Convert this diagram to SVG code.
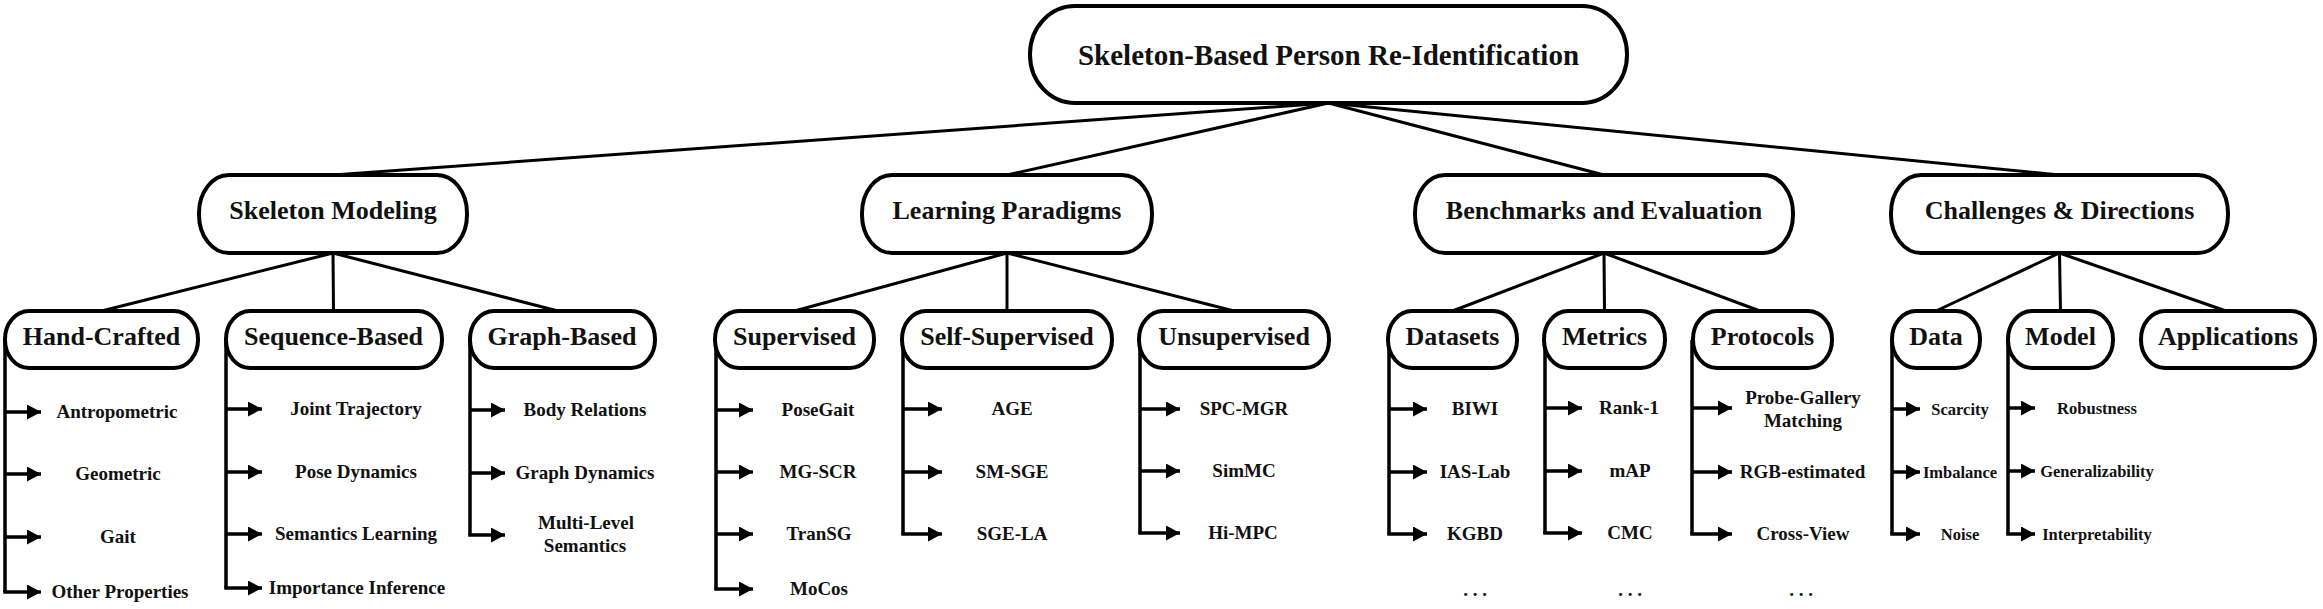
<svg xmlns="http://www.w3.org/2000/svg" width="2323" height="609" viewBox="0 0 2323 609">
<style>
  .box { fill: #fff; stroke: #000; stroke-width: 4; }
  .conn { stroke: #000; stroke-width: 3; fill: none; }
  .br { stroke: #000; stroke-width: 3.5; fill: none; stroke-linejoin: miter; }
  .arr { stroke: #000; stroke-width: 3.5; fill: none; marker-end: url(#ah); }
  text { font-family: "Liberation Serif", "Times New Roman", serif; font-weight: bold; fill: #111; text-anchor: middle; }
  .t0 { font-size: 29px; }
  .t1 { font-size: 26px; }
  .t2 { font-size: 26px; }
  .t3 { font-size: 19px; }
  .t4 { font-size: 16.5px; }
</style>
<defs>
  <marker id="ah" markerUnits="userSpaceOnUse" markerWidth="15" markerHeight="15" refX="14" refY="7.5" orient="auto">
    <path d="M0,0 L14,7.5 L0,15 z" fill="#000"/>
  </marker>
</defs>
<rect width="2323" height="609" fill="#fff"/>

<g id="connectors">
  <line class="conn" x1="1328.5" y1="103" x2="333" y2="175"/>
  <line class="conn" x1="1328.5" y1="103" x2="1007" y2="175"/>
  <line class="conn" x1="1328.5" y1="103" x2="1604" y2="175"/>
  <line class="conn" x1="1328.5" y1="103" x2="2059.5" y2="175"/>
  <line class="conn" x1="333" y1="253" x2="101.5" y2="311"/>
  <line class="conn" x1="333" y1="253" x2="333.5" y2="311"/>
  <line class="conn" x1="333" y1="253" x2="558" y2="311"/>
  <line class="conn" x1="1007" y1="253" x2="794.5" y2="311"/>
  <line class="conn" x1="1007" y1="253" x2="1007" y2="311"/>
  <line class="conn" x1="1007" y1="253" x2="1234" y2="311"/>
  <line class="conn" x1="1604" y1="253" x2="1452.5" y2="311"/>
  <line class="conn" x1="1604" y1="253" x2="1604.5" y2="311"/>
  <line class="conn" x1="1604" y1="253" x2="1760" y2="311"/>
  <line class="conn" x1="2059.5" y1="253" x2="1936" y2="311"/>
  <line class="conn" x1="2059.5" y1="253" x2="2060.5" y2="311"/>
  <line class="conn" x1="2059.5" y1="253" x2="2226" y2="311"/>

  <!-- Hand-Crafted -->
  <path class="br" d="M5,340 V592"/>
  <line class="arr" x1="5" y1="412" x2="41" y2="412"/>
  <line class="arr" x1="5" y1="474" x2="41" y2="474"/>
  <line class="arr" x1="5" y1="537" x2="41" y2="537"/>
  <line class="arr" x1="3.25" y1="592" x2="41" y2="592"/>
  <!-- Sequence-Based -->
  <path class="br" d="M226,340 V588"/>
  <line class="arr" x1="226" y1="409" x2="262" y2="409"/>
  <line class="arr" x1="226" y1="472" x2="262" y2="472"/>
  <line class="arr" x1="226" y1="534" x2="262" y2="534"/>
  <line class="arr" x1="224.25" y1="588" x2="262" y2="588"/>
  <!-- Graph-Based -->
  <path class="br" d="M470,340 V535"/>
  <line class="arr" x1="470" y1="410" x2="505" y2="410"/>
  <line class="arr" x1="470" y1="473" x2="505" y2="473"/>
  <line class="arr" x1="468.25" y1="535" x2="505" y2="535"/>
  <!-- Supervised -->
  <path class="br" d="M716,340 V589"/>
  <line class="arr" x1="716" y1="410" x2="753" y2="410"/>
  <line class="arr" x1="716" y1="472" x2="753" y2="472"/>
  <line class="arr" x1="716" y1="534" x2="753" y2="534"/>
  <line class="arr" x1="714.25" y1="589" x2="753" y2="589"/>
  <!-- Self-Supervised -->
  <path class="br" d="M903,340 V534"/>
  <line class="arr" x1="903" y1="409" x2="942" y2="409"/>
  <line class="arr" x1="903" y1="472" x2="942" y2="472"/>
  <line class="arr" x1="901.25" y1="534" x2="942" y2="534"/>
  <!-- Unsupervised -->
  <path class="br" d="M1140,340 V533"/>
  <line class="arr" x1="1140" y1="409" x2="1180" y2="409"/>
  <line class="arr" x1="1140" y1="471" x2="1180" y2="471"/>
  <line class="arr" x1="1138.25" y1="533" x2="1180" y2="533"/>
  <!-- Datasets -->
  <path class="br" d="M1389,340 V534"/>
  <line class="arr" x1="1389" y1="409" x2="1427" y2="409"/>
  <line class="arr" x1="1389" y1="472" x2="1427" y2="472"/>
  <line class="arr" x1="1387.25" y1="534" x2="1427" y2="534"/>
  <!-- Metrics -->
  <path class="br" d="M1545,340 V533"/>
  <line class="arr" x1="1545" y1="408" x2="1582" y2="408"/>
  <line class="arr" x1="1545" y1="471" x2="1582" y2="471"/>
  <line class="arr" x1="1543.25" y1="533" x2="1582" y2="533"/>
  <!-- Protocols -->
  <path class="br" d="M1692,340 V534"/>
  <line class="arr" x1="1692" y1="408" x2="1732" y2="408"/>
  <line class="arr" x1="1692" y1="472" x2="1732" y2="472"/>
  <line class="arr" x1="1690.25" y1="534" x2="1732" y2="534"/>
  <!-- Data -->
  <path class="br" d="M1892,340 V534"/>
  <line class="arr" x1="1892" y1="409" x2="1920" y2="409"/>
  <line class="arr" x1="1892" y1="472" x2="1920" y2="472"/>
  <line class="arr" x1="1890.25" y1="534" x2="1920" y2="534"/>
  <!-- Model -->
  <path class="br" d="M2008,340 V534"/>
  <line class="arr" x1="2008" y1="408" x2="2035" y2="408"/>
  <line class="arr" x1="2008" y1="471" x2="2035" y2="471"/>
  <line class="arr" x1="2006.25" y1="534" x2="2035" y2="534"/>
</g>

<g id="root">
  <rect class="box" x="1030" y="6" width="597" height="97" rx="45" ry="48"/>
  <text class="t0" x="1328.5" y="65">Skeleton-Based Person Re-Identification</text>
</g>

<g id="skeleton-modeling">
  <rect class="box" x="199" y="175" width="268" height="78" rx="30" ry="38"/>
  <text class="t1" x="333" y="219">Skeleton Modeling</text>
</g>
<g id="learning-paradigms">
  <rect class="box" x="862" y="175" width="290" height="78" rx="30" ry="38"/>
  <text class="t1" x="1007" y="219">Learning Paradigms</text>
</g>
<g id="benchmarks">
  <rect class="box" x="1415" y="175" width="378" height="78" rx="30" ry="38"/>
  <text class="t1" x="1604" y="219">Benchmarks and Evaluation</text>
</g>
<g id="challenges">
  <rect class="box" x="1891" y="175" width="337" height="78" rx="30" ry="38"/>
  <text class="t1" x="2059.5" y="219">Challenges &amp; Directions</text>
</g>

<g id="hand-crafted">
  <rect class="box" x="5" y="311" width="193" height="57" rx="24" ry="28"/>
  <text class="t2" x="101.5" y="345">Hand-Crafted</text>
  <text class="t3" x="117" y="418">Antropometric</text>
  <text class="t3" x="118" y="480">Geometric</text>
  <text class="t3" x="118" y="543">Gait</text>
  <text class="t3" x="120" y="598">Other Properties</text>
</g>
<g id="sequence-based">
  <rect class="box" x="226" y="311" width="216" height="57" rx="24" ry="28"/>
  <text class="t2" x="333.5" y="345">Sequence-Based</text>
  <text class="t3" x="356" y="415">Joint Trajectory</text>
  <text class="t3" x="356" y="478">Pose Dynamics</text>
  <text class="t3" x="356" y="540">Semantics Learning</text>
  <text class="t3" x="357" y="594">Importance Inference</text>
</g>
<g id="graph-based">
  <rect class="box" x="470" y="311" width="185" height="57" rx="24" ry="28"/>
  <text class="t2" x="562" y="345">Graph-Based</text>
  <text class="t3" x="585" y="416">Body Relations</text>
  <text class="t3" x="585" y="479">Graph Dynamics</text>
  <text class="t3" x="586" y="529">Multi-Level</text>
  <text class="t3" x="585" y="552">Semantics</text>
</g>
<g id="supervised">
  <rect class="box" x="715" y="311" width="159" height="57" rx="24" ry="28"/>
  <text class="t2" x="794.5" y="345">Supervised</text>
  <text class="t3" x="818" y="416">PoseGait</text>
  <text class="t3" x="818" y="478">MG-SCR</text>
  <text class="t3" x="819" y="540">TranSG</text>
  <text class="t3" x="819" y="595">MoCos</text>
</g>
<g id="self-supervised">
  <rect class="box" x="902" y="311" width="210" height="57" rx="24" ry="28"/>
  <text class="t2" x="1007" y="345">Self-Supervised</text>
  <text class="t3" x="1012" y="415">AGE</text>
  <text class="t3" x="1012" y="478">SM-SGE</text>
  <text class="t3" x="1012" y="540">SGE-LA</text>
</g>
<g id="unsupervised">
  <rect class="box" x="1139" y="311" width="190" height="57" rx="24" ry="28"/>
  <text class="t2" x="1234" y="345">Unsupervised</text>
  <text class="t3" x="1244" y="415">SPC-MGR</text>
  <text class="t3" x="1244" y="477">SimMC</text>
  <text class="t3" x="1243" y="539">Hi-MPC</text>
</g>
<g id="datasets">
  <rect class="box" x="1388" y="311" width="129" height="57" rx="24" ry="28"/>
  <text class="t2" x="1452.5" y="345">Datasets</text>
  <text class="t3" x="1475" y="415">BIWI</text>
  <text class="t3" x="1475" y="478">IAS-Lab</text>
  <text class="t3" x="1475" y="540">KGBD</text>
  <text class="t3" x="1475" y="596">. . .</text>
</g>
<g id="metrics">
  <rect class="box" x="1544" y="311" width="121" height="57" rx="24" ry="28"/>
  <text class="t2" x="1604.5" y="345">Metrics</text>
  <text class="t3" x="1629" y="414">Rank-1</text>
  <text class="t3" x="1630" y="477">mAP</text>
  <text class="t3" x="1630" y="539">CMC</text>
  <text class="t3" x="1630" y="596">. . .</text>
</g>
<g id="protocols">
  <rect class="box" x="1693" y="311" width="139" height="57" rx="24" ry="28"/>
  <text class="t2" x="1762.5" y="345">Protocols</text>
  <text class="t3" x="1803" y="404">Probe-Gallery</text>
  <text class="t3" x="1803" y="427">Matching</text>
  <text class="t3" x="1802.5" y="478">RGB-estimated</text>
  <text class="t3" x="1803" y="540">Cross-View</text>
  <text class="t3" x="1801" y="596">. . .</text>
</g>
<g id="data">
  <rect class="box" x="1892" y="311" width="88" height="57" rx="24" ry="28"/>
  <text class="t2" x="1936" y="345">Data</text>
  <text class="t4" x="1960" y="415">Scarcity</text>
  <text class="t4" x="1960" y="478">Imbalance</text>
  <text class="t4" x="1960" y="540">Noise</text>
</g>
<g id="model">
  <rect class="box" x="2008" y="311" width="105" height="57" rx="24" ry="28"/>
  <text class="t2" x="2060.5" y="345">Model</text>
  <text class="t4" x="2097" y="414">Robustness</text>
  <text class="t4" x="2097" y="477">Generalizability</text>
  <text class="t4" x="2097" y="540">Interpretability</text>
</g>
<g id="applications">
  <rect class="box" x="2141" y="311" width="174" height="57" rx="24" ry="28"/>
  <text class="t2" x="2228" y="345">Applications</text>
</g>
</svg>
